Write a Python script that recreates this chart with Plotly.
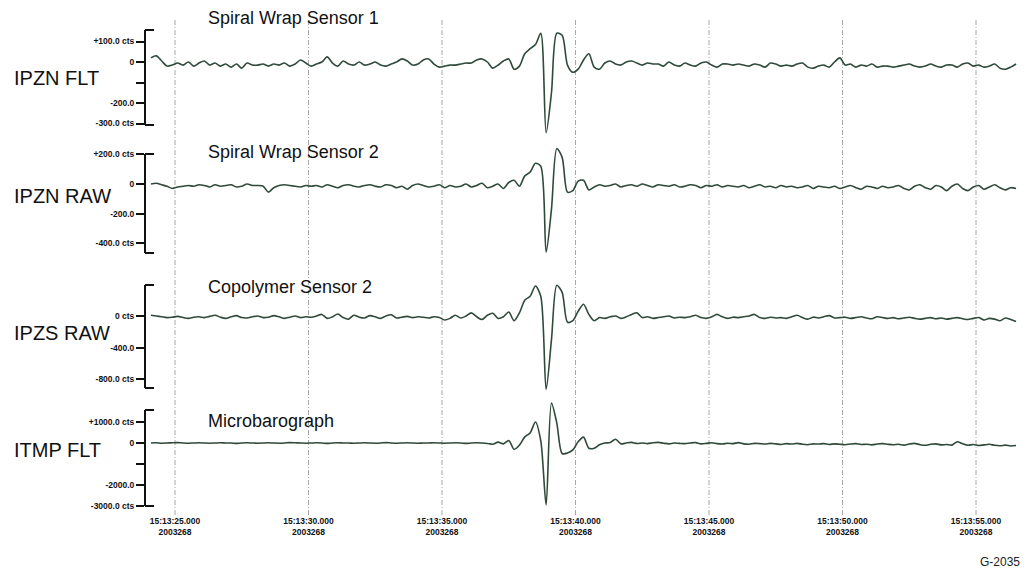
import plotly.graph_objects as go

# ---- figure geometry (pixels) ----
W, H = 1027, 573
PLOT_L, PLOT_R = 145, 1018

# ---- sampling: seconds after 15:13:00, day 2003268 ----
T_START = 24.1
DT = 0.2

# ---- waveforms (counts) ----
ipzn_flt = [
    20, 30, 5, -20, -15, -5, -15, 0, -20, -5,
    5, -15, -5, -20, -10, -25, -10, -30, -5, -15,
    -15, -10, -20, -10, -15, -5, -20, -10, 10, -5,
    -20, -10, 0, 25, -5, -20, 5, -10, -15, 0,
    -15, -10, 0, -15, -20, -10, 0, 15, 5, -15,
    -10, 10, 15, -10, -25, -20, -15, -15, -10, -5,
    -5, 10, 15, 0, -30, -15, 5, 15, -35, -20,
    40, 65, 85, 140, -345, -150, 140, 130, -15, -50,
    -35, 10, 40, -25, -35, -5, 5, -10, -15, 0,
    5, -5, -15, -5, -10, -10, -20, 0, -15, -20,
    -5, -15, -20, -5, 0, -15, -25, -10, -10, -15,
    -10, -15, -20, -10, -15, -25, -5, -10, -20, -15,
    -20, -10, -5, -25, -30, -20, -15, -25, 0, 20,
    -15, -10, -25, -15, -20, -10, -25, -20, -20, -25,
    -20, -15, -10, -20, -25, -20, -10, -20, -25, -15,
    -15, -25, -10, -5, -20, -15, -25, -20, -10, -30,
    -35, -25, -10,
]

ipzn_raw = [
    0, 5, -5, -15, -30, -20, -15, -10, -15, -5,
    -10, -20, -5, -15, -10, -5, -20, -15, 0, -10,
    -10, -15, -55, -25, -10, -5, -10, -15, -20, -10,
    -15, -10, -20, -5, -15, -25, -10, -5, -15, -20,
    -10, -5, -15, -20, -5, -10, -25, -15, -35, -10,
    0, -10, -20, -15, -5, -25, -10, -20, -15, 0,
    -20, -10, 5, -25, -15, 0, -30, 10, 25, -15,
    55, 80, 140, 120, -460, -170, 240, 180, -55, -45,
    20, 25, -40, -20, -5, -15, -10, 0, -20, -10,
    -5, -15, 0, -10, -20, -5, -10, -15, -5, -20,
    -15, -5, -10, -25, -10, -15, -5, -20, -10, -15,
    -20, -10, -25, -15, -5, -20, -15, -25, -10, -20,
    -15, -25, -20, -10, -30, -15, -20, -25, -15, -30,
    -20, -10, -25, -35, -15, -20, -30, -15, -25, -20,
    -10, -30, -40, -15, -5, -25, -35, -10, -20, -45,
    -15, 0, -30, -45, -20, -10, -35, -20, -5, -25,
    -40, -25, -30,
]

ipzs_raw = [
    10, 0, -10, -20, -15, -5, -20, -30, -15, -10,
    -20, -5, 10, -15, -30, -10, 5, -20, -25, -10,
    0, -20, -15, 5, -10, -30, -15, 0, -20, -10,
    -15, 0, 20, -30, -10, 25, -20, -40, 10, -15,
    -25, 5, -10, -30, 0, 15, -25, -15, -5, -20,
    -10, -15, -25, -10, -20, -50, -30, 10, -25, 0,
    40, -10, -45, 10, 35, -30, -10, 50, -60, 40,
    200, 250, 380, 250, -930, -300, 390, 300, -80, -60,
    60, 150, 20, -60, -20, -30, -10, 0, -30, -10,
    20, 40, -20, -10, -30, -20, -10, 0, -25, -15,
    -20, -10, 10, -20, -30, -10, 20, -10, -30, -15,
    -20, -10, 0, 20, -20, -30, -15, -25, -20, -30,
    -10, 10, -20, -40, -15, -25, -10, 5, -25, -20,
    -15, -30, -20, -10, -25, -35, -10, -20, -30, -20,
    -35, -25, -15, -30, -40, -30, -20, -35, -25, -40,
    -30, -20, -35, -45, -30, -20, -50, -30, -40, -60,
    -25, -45, -70,
]

itmp_flt = [
    0, 10, -10, 0, 10, 20, 0, -10, 0, 10,
    0, -10, 0, 10, 0, 0, -20, 0, 10, 0,
    -10, 0, 10, 0, -10, 0, 20, 10, 0, -10,
    0, 10, 0, -20, 0, 10, 0, 0, -10, 0,
    10, 0, -10, 0, 20, 0, -10, 0, 10, 0,
    -10, 0, 0, 10, 0, -10, 0, 10, 0, -20,
    0, 10, 0, -20, -60, 40, -40, 120, -300, -100,
    290, 480, 1000, 100, -2950, 1900, 950, -500, -480, -330,
    60, 280, -250, -250, -80, 0, 20, 180, -40, 0,
    30, -20, 0, -30, 10, 30, -10, -40, 0, -20,
    -30, 0, 20, -40, -20, 10, -30, -50, -10, -30,
    20, -40, -60, -20, -30, -50, -20, -40, -70, -30,
    -50, -20, -60, -80, -40, -50, -30, -70, -40, -60,
    -80, -50, -30, -70, -60, -90, -50, -30, -60, -80,
    -60, -100, -50, -20, -80, -110, -60, -40, -90, -70,
    -100, 60, -40, -110, -70, -120, -90, -60, -110, -130,
    -100, -140, -120,
]

channels = ["IPZN FLT", "IPZN RAW", "IPZS RAW", "ITMP FLT"]
sensors = ["Spiral Wrap Sensor 1", "Spiral Wrap Sensor 2", "Copolymer Sensor 2", "Microbarograph"]
series = [ipzn_flt, ipzn_raw, ipzs_raw, itmp_flt]

y_tickvals = [
    [100, 0, -100, -200, -300],
    [200, 0, -200, -400],
    [0, -400, -800],
    [1000, 0, -1000, -2000, -3000],
]
y_ticktext = [
    ["+100.0 cts", "0", "", "-200.0", "-300.0 cts"],
    ["+200.0 cts", "0", "-200.0", "-400.0 cts"],
    ["0 cts", "-400.0", "-800.0 cts"],
    ["+1000.0 cts", "0", "", "-2000.0", "-3000.0 cts"],
]

x_tickvals = [25, 30, 35, 40, 45, 50, 55]
x_ticktext = ["15:13:%02d.000<br>2003268" % s for s in x_tickvals]

# ---- per-panel layout: zero line px, px per count, domain px, bracket px, text px ----
panels = [
    dict(zero=62, ppc=0.205, dom=(20, 140), brk=(30, 125), title_y=18, label_y=78),
    dict(zero=184, ppc=0.148, dom=(140, 264), brk=(154, 253), title_y=152, label_y=196),
    dict(zero=316, ppc=0.0788, dom=(272, 398), brk=(285, 388), title_y=287, label_y=333),
    dict(zero=443, ppc=0.021, dom=(398, 514), brk=(410, 506), title_y=421, label_y=450),
]

PX_PER_S = 26.7
X0_PX = 175  # position of 15:13:25
x_range = [25 + (PLOT_L - X0_PX) / PX_PER_S, 25 + (PLOT_R - X0_PX) / PX_PER_S]


def py(px):
    """pixel row -> paper fraction"""
    return 1 - px / H


def pxx(px):
    """pixel column -> paper fraction (relative to plot area)"""
    return (px - PLOT_L) / (PLOT_R - PLOT_L)


FONT = "Liberation Sans, Arial, sans-serif"
TRACE_COLOR = "#2f4a3b"
TICK_FONT = dict(family=FONT, size=8.5, color="#111", weight="bold")

fig = go.Figure()
times = [T_START + DT * i for i in range(len(ipzn_flt))]

layout = dict(
    width=W, height=H,
    margin=dict(l=PLOT_L, r=W - PLOT_R, t=0, b=0, pad=0),
    paper_bgcolor="white", plot_bgcolor="rgba(0,0,0,0)",
    showlegend=False,
    xaxis=dict(
        domain=[0, 1], range=x_range, anchor="y4",
        tickvals=x_tickvals, ticktext=x_ticktext, ticks="",
        showline=False, showgrid=False, zeroline=False, automargin=False,
        tickfont=TICK_FONT,
    ),
)

shapes = []
annotations = []

for k, (p, vals) in enumerate(zip(panels, series), start=1):
    top, bot = p["dom"]
    yname = "yaxis" if k == 1 else "yaxis%d" % k
    layout[yname] = dict(
        domain=[py(bot), py(top)],
        range=[(p["zero"] - bot) / p["ppc"], (p["zero"] - top) / p["ppc"]],
        anchor="x", side="left",
        tickvals=y_tickvals[k - 1], ticktext=y_ticktext[k - 1],
        ticks="outside", ticklen=8, tickwidth=1.5, tickcolor="#111",
        showline=False, showgrid=False, zeroline=False, automargin=False,
        tickfont=TICK_FONT,
    )
    fig.add_trace(go.Scatter(
        x=times, y=vals, mode="lines",
        xaxis="x", yaxis="y" if k == 1 else "y%d" % k,
        line=dict(color=TRACE_COLOR, width=1.6, shape="spline", smoothing=0.8),
        hoverinfo="skip",
    ))

    # bracket-style axis line with short caps
    b_top, b_bot = p["brk"]
    line_style = dict(color="#111", width=2)
    shapes.append(dict(type="line", xref="paper", yref="paper",
                       x0=0, x1=0, y0=py(b_bot), y1=py(b_top), line=line_style))
    for yb in (b_top, b_bot):
        shapes.append(dict(type="line", xref="paper", yref="paper",
                           x0=0, x1=pxx(PLOT_L + 9), y0=py(yb), y1=py(yb), line=line_style))

    annotations.append(dict(
        text=sensors[k - 1], xref="paper", yref="paper",
        x=pxx(206), y=py(p["title_y"]), xanchor="left", yanchor="middle",
        showarrow=False, font=dict(family=FONT, size=18, color="#111"),
    ))
    annotations.append(dict(
        text=channels[k - 1], xref="paper", yref="paper",
        x=pxx(12), y=py(p["label_y"]), xanchor="left", yanchor="middle",
        showarrow=False, font=dict(family=FONT, size=20, color="#111"),
    ))

# time grid lines running through all panels
for tv in x_tickvals:
    shapes.append(dict(type="line", xref="x", yref="paper", x0=tv, x1=tv,
                       y0=py(515), y1=py(20), layer="below",
                       line=dict(color="#a8a8a8", width=1, dash="5px,2px,1px,2px")))

annotations.append(dict(
    text="G-2035", xref="paper", yref="paper", x=pxx(1022), y=py(562),
    xanchor="right", yanchor="middle", showarrow=False,
    font=dict(family=FONT, size=12, color="#222"),
))

layout["shapes"] = shapes
layout["annotations"] = annotations
fig.update_layout(**layout)

fig.write_html("out.html")
